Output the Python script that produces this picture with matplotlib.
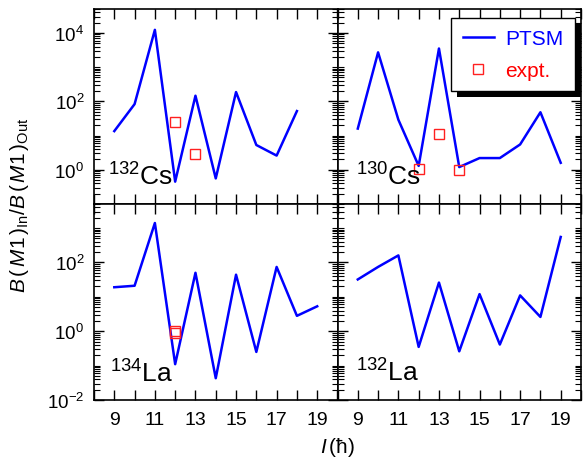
import matplotlib
matplotlib.use("Agg")
import matplotlib.pyplot as plt
import numpy as np
from matplotlib.ticker import LogLocator, NullFormatter, MultipleLocator, FixedLocator
from matplotlib.patches import Rectangle
from matplotlib.transforms import IdentityTransform

plt.rcParams['font.family'] = ['Liberation Sans', 'DejaVu Sans']
plt.rcParams['mathtext.fontset'] = 'custom'
plt.rcParams['mathtext.rm'] = 'Liberation Sans'
plt.rcParams['mathtext.it'] = 'Liberation Sans:italic'
plt.rcParams['mathtext.default'] = 'rm'

spins = [9, 10, 11, 12, 13, 14, 15, 16, 17, 18, 19]

cs132_x = [9, 10, 11, 12, 13, 14, 15, 16, 17, 18]
cs132_ptsm = [13.5, 83, 12300, 0.45, 146, 0.56, 187, 5.3, 2.6, 52]
cs132_exp_x = [12, 13]
cs132_exp = [25, 2.8]

cs130_x = spins
cs130_ptsm = [16, 2700, 29, 1.3, 3500, 1.2, 2.2, 2.2, 5.5, 48, 1.6]
cs130_exp_x = [12, 13, 14]
cs130_exp = [1.05, 11, 1.0]

la134_x = spins
la134_ptsm = [19, 21, 1400, 0.11, 50, 0.043, 44, 0.25, 74, 2.8, 5.3]
la134_exp_x = [12, 12]
la134_exp = [0.88, 1.0]

la132_x = spins
la132_ptsm = [32, 74, 160, 0.35, 26, 0.26, 12, 0.41, 11, 2.6, 550]

labels = [r'$^{132}$Cs', r'$^{130}$Cs', r'$^{134}$La', r'$^{132}$La']
label_pos = [(0.058, 0.10), (0.074, 0.10), (0.066, 0.093), (0.074, 0.098)]
xticks = [9, 11, 13, 15, 17, 19]

fig = plt.figure(figsize=(5.83, 4.60), dpi=100)
L, R = 94/583, 581/583
T, M, B = 1-10/460, 1-205/460, 1-401/460
W = (R-L)/2
axs = [
    fig.add_axes([L, M, W, T-M]),
    fig.add_axes([L+W, M, W, T-M]),
    fig.add_axes([L, B, W, M-B]),
    fig.add_axes([L+W, B, W, M-B]),
]

data = [
    (cs132_x, cs132_ptsm, cs132_exp_x, cs132_exp),
    (cs130_x, cs130_ptsm, cs130_exp_x, cs130_exp),
    (la134_x, la134_ptsm, la134_exp_x, la134_exp),
    (la132_x, la132_ptsm, None, None),
]

for i, (ax, (x, y, ex, ey)) in enumerate(zip(axs, data)):
    ax.plot(x, y, color='#0000ff', lw=1.8, label='PTSM')
    if ex is not None:
        ax.plot(ex, ey, ls='none', marker='s', ms=7.5, mfc='none', mec='#ff2020',
                mew=1.0, label='expt.')
    ax.set_yscale('log')
    ax.set_xlim(8, 20)
    if i < 2:
        ax.set_ylim(0.1, 5e4)
        ax.set_yticks([1, 100, 1e4])
    else:
        ax.set_ylim(0.01, 5e3)
        ax.set_yticks([0.01, 1, 100])
    ax.xaxis.set_major_locator(FixedLocator(xticks))
    ax.xaxis.set_minor_locator(MultipleLocator(1))
    ax.yaxis.set_minor_locator(LogLocator(base=10, subs=np.arange(1, 10), numticks=20))
    ax.yaxis.set_minor_formatter(NullFormatter())
    ax.tick_params(which='both', direction='in', top=True, right=True)
    ax.tick_params(axis='x', labelsize=14, pad=8)
    ax.tick_params(axis='y', labelsize=13.5, pad=7)
    ax.tick_params(which='major', length=7, width=1)
    ax.tick_params(which='minor', length=4, width=0.8)
    ax.tick_params(axis='x', which='minor', length=7, width=1)
    if i < 2:
        ax.tick_params(labelbottom=False)
    if i in (1, 3):
        ax.tick_params(labelleft=False)
    for s in ax.spines.values():
        s.set_linewidth(1.2)
    ax.text(label_pos[i][0], label_pos[i][1], labels[i], transform=ax.transAxes,
            fontsize=19, ha='left', va='baseline')

leg = axs[1].legend(loc='upper left', bbox_to_anchor=(0.467, 0.954), borderaxespad=0,
                    fontsize=15, frameon=True, fancybox=False, shadow=False,
                    handlelength=1.5, borderpad=0.55, labelspacing=0.6,
                    handletextpad=0.55, markerscale=0.9)
leg.get_frame().set_edgecolor('black')
leg.get_frame().set_linewidth(1.0)
leg.get_frame().set_alpha(1.0)
for t, c in zip(leg.get_texts(), ['#0000ff', '#ff0000']):
    t.set_color(c)

fig.text(0.033, (T+B)/2,
         r'$\mathit{B}\,(\,\mathit{M1}\,)_{\mathrm{In}}/\mathit{B}\,(\,\mathit{M1}\,)_{\mathrm{Out}}$',
         rotation=90, ha='center', va='center', fontsize=15)
fig.text((L+R)/2, 1-448/460, r'$\mathit{I}\,(\hbar)$', ha='center', va='center', fontsize=15)

fig.canvas.draw()
bb = leg.get_window_extent()
off = 6
shadow = Rectangle((bb.x0 + off, bb.y0 - off), bb.width, bb.height,
                   transform=IdentityTransform(), facecolor='black', edgecolor='none',
                   zorder=leg.get_zorder() - 0.1, clip_on=False)
axs[1].add_artist(shadow)

fig.savefig('out.png', dpi=100)
